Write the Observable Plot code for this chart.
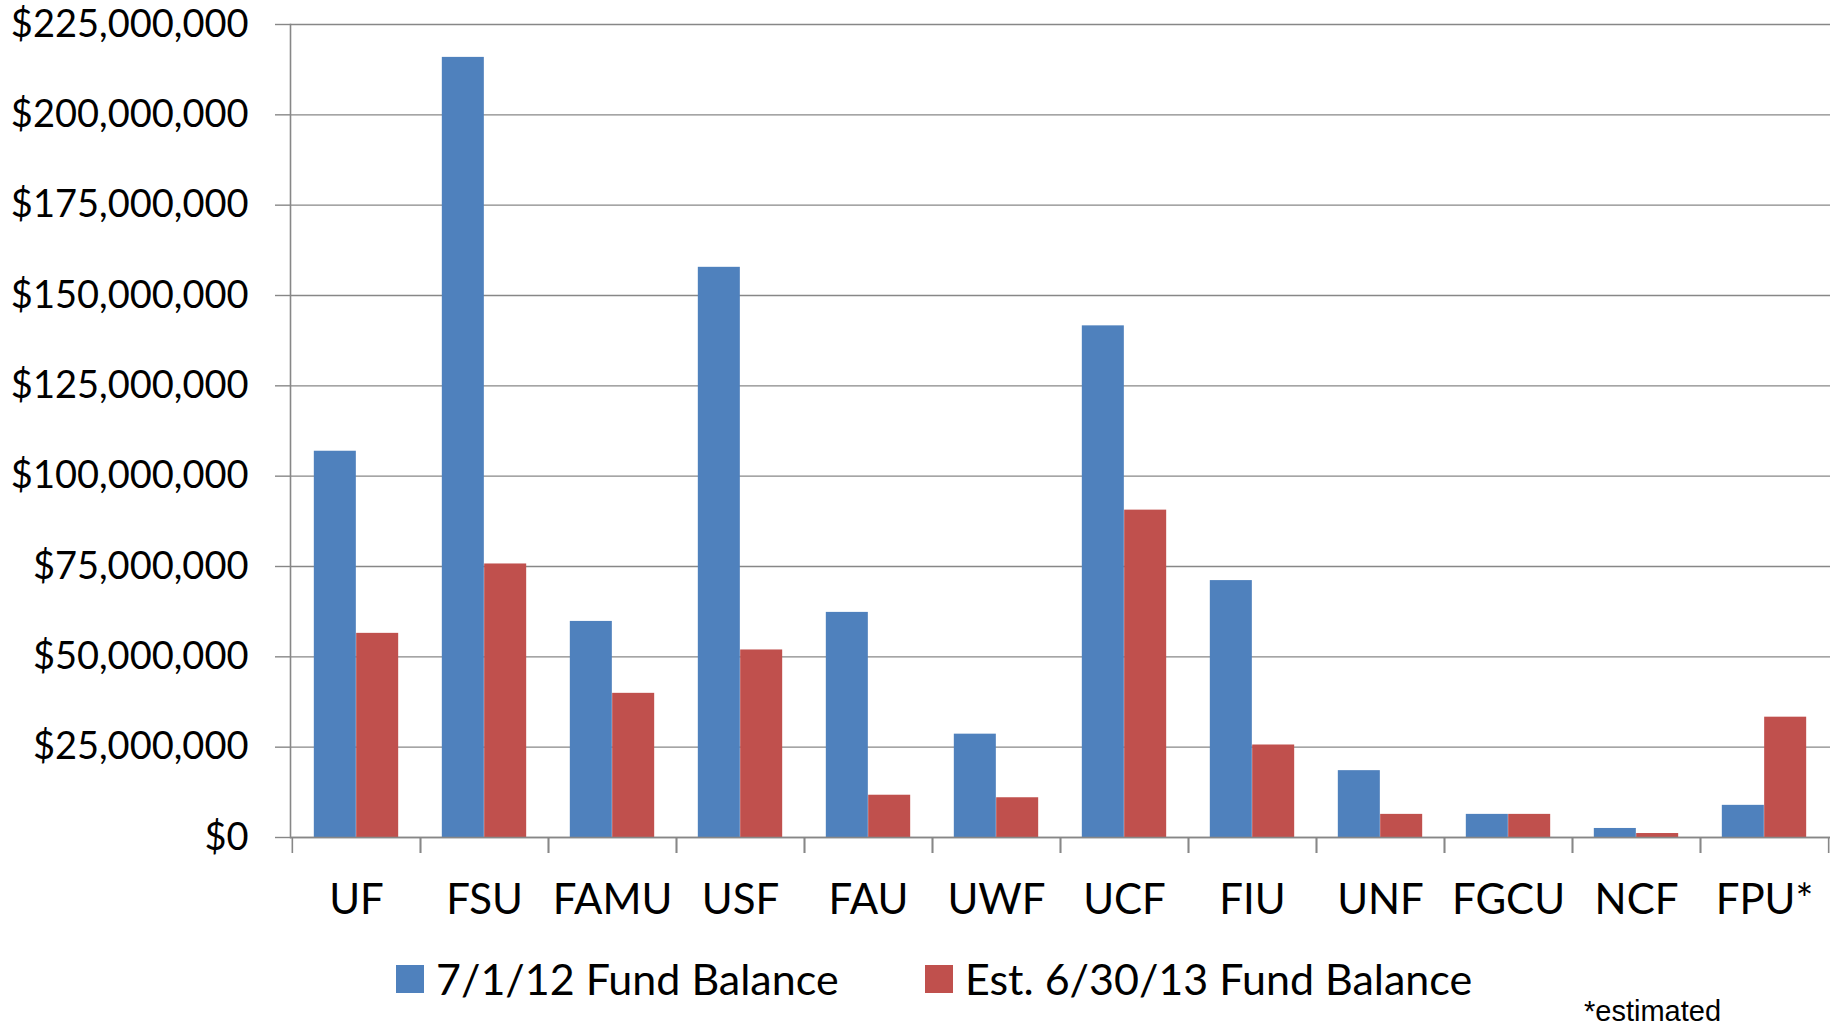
<!DOCTYPE html>
<html>
<head>
<meta charset="utf-8">
<script src="https://cdn.jsdelivr.net/npm/d3@7"></script>
<script src="https://cdn.jsdelivr.net/npm/@observablehq/plot@0.6"></script>
<style>
html, body { margin: 0; padding: 0; background: #fff; overflow: hidden; }
#wrap { position: relative; width: 1841px; height: 1024px; }
.item { position: absolute; top: 953px; display: flex; align-items: center; font-family: Lato, sans-serif; font-size: 43px; color: #000; white-space: nowrap; }
.sw { width: 28px; height: 28px; margin-right: 12px; }
#note { position: absolute; left: 1584px; top: 997px; font-family: "Liberation Sans", Arial, sans-serif; font-size: 29px; line-height: 1; color: #000; white-space: nowrap; }
</style>
</head>
<body>
<div id="wrap">
  <div id="chart"></div>
  <div id="legend"></div>
  <div id="note">*estimated</div>
</div>
<script>
// ---- data ----
const categories = ["UF", "FSU", "FAMU", "USF", "FAU", "UWF", "UCF", "FIU", "UNF", "FGCU", "NCF", "FPU*"];
const seriesNames = ["7/1/12 Fund Balance", "Est. 6/30/13 Fund Balance"];
const seriesColors = ["#4F81BD", "#C0504D"];
const balance2012 = [106.9e6, 215.9e6, 59.8e6, 157.8e6, 62.3e6, 28.6e6, 141.6e6, 71.1e6, 18.5e6, 6.4e6, 2.5e6, 8.9e6];
const balance2013 = [56.5e6, 75.7e6, 39.9e6, 51.9e6, 11.7e6, 11.0e6, 90.6e6, 25.6e6, 6.4e6, 6.4e6, 1.1e6, 33.3e6];
const yTicks = [0, 25e6, 50e6, 75e6, 100e6, 125e6, 150e6, 175e6, 200e6, 225e6];

// ---- layout ----
const W = 1841, H = 940;
const mL = 290, mR = 11, mT = 24, mB = 103;
const step = (W - mL - mR) / categories.length;
const barW = step * 0.33;
const outer = (step - 2 * barW) / 2;
const gray = "#878787";

const rows = [];
categories.forEach((c, i) => {
  rows.push({cat: c, series: seriesNames[0], value: balance2012[i]});
  rows.push({cat: c, series: seriesNames[1], value: balance2013[i]});
});

const chart = Plot.plot({
  width: W, height: H,
  marginLeft: mL, marginRight: mR, marginTop: mT, marginBottom: mB,
  style: {fontFamily: "Lato, sans-serif", fontSize: "42px", color: "#000", background: "#fff"},
  x: {domain: categories, padding: 0, axis: null},
  y: {domain: [0, 225e6], axis: null},
  marks: [
    Plot.gridY(yTicks, {stroke: gray, strokeOpacity: 1, strokeWidth: 1.4}),
    Plot.axisY(yTicks, {tickSize: 15, tickPadding: 27, stroke: gray, strokeWidth: 1.4, fontSize: 38,
      tickFormat: d3.format("$,"), label: null, fill: "#000"}),
    Plot.barY(rows.filter(d => d.series === seriesNames[0]),
      {x: "cat", y: "value", fill: seriesColors[0], insetLeft: outer, insetRight: step - outer - barW}),
    Plot.barY(rows.filter(d => d.series === seriesNames[1]),
      {x: "cat", y: "value", fill: seriesColors[1], insetLeft: outer + barW, insetRight: outer}),
    Plot.ruleY([0], {stroke: gray, strokeWidth: 1.6}),
    Plot.frame({anchor: "left", stroke: gray, strokeWidth: 1.6}),
    Plot.axisX({tickSize: 0, tickPadding: 47, fontSize: 42, label: null, fill: "#000"}),
    Plot.axisX({tickSize: 16, fill: "none", stroke: gray, strokeWidth: 1.6, dx: -step / 2, label: null}),
    Plot.axisX({tickSize: 16, fill: "none", stroke: gray, strokeWidth: 1.6, dx: step / 2, label: null})
  ]
});
document.getElementById("chart").appendChild(chart);

// ---- legend ----
const legend = document.getElementById("legend");
const legendLeft = [396, 925];
seriesNames.forEach((name, i) => {
  const item = document.createElement("div");
  item.className = "item";
  item.style.left = legendLeft[i] + "px";
  const sw = document.createElement("div");
  sw.className = "sw";
  sw.style.background = seriesColors[i];
  const t = document.createElement("span");
  t.textContent = name;
  item.appendChild(sw);
  item.appendChild(t);
  legend.appendChild(item);
});
</script>
</body>
</html>
